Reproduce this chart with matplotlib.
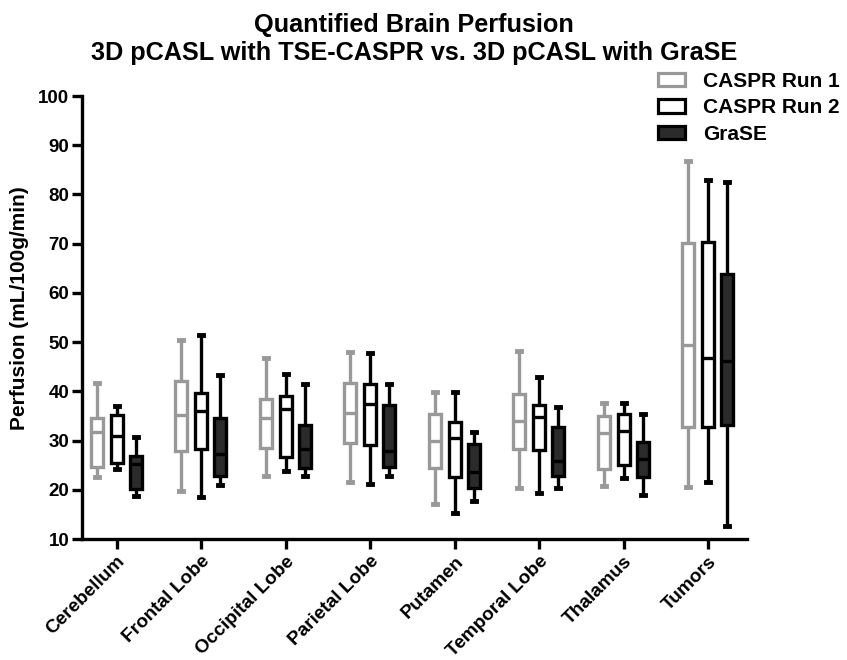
import matplotlib
matplotlib.use("Agg")
import matplotlib.pyplot as plt
from matplotlib.patches import Patch
import numpy as np

plt.rcParams['font.family'] = ['Liberation Sans', 'DejaVu Sans']

categories = ["Cerebellum", "Frontal Lobe", "Occipital Lobe", "Parietal Lobe",
              "Putamen", "Temporal Lobe", "Thalamus", "Tumors"]
series_names = ["CASPR Run 1", "CASPR Run 2", "GraSE"]

# [whislo, q1, median, q3, whishi] per category
caspr1 = [
    [22.7, 24.6, 31.8, 34.5, 41.6],
    [19.8, 27.9, 35.2, 42.2, 50.4],
    [22.8, 28.5, 34.6, 38.4, 46.8],
    [21.6, 29.6, 35.7, 41.6, 47.9],
    [17.1, 24.5, 29.9, 35.4, 39.8],
    [20.3, 28.2, 34.0, 39.5, 48.2],
    [20.8, 24.2, 31.5, 35.0, 37.6],
    [20.6, 32.8, 49.4, 70.2, 86.9],
]
caspr2 = [
    [24.2, 25.5, 30.9, 35.2, 37.0],
    [18.6, 28.2, 36.1, 39.7, 51.4],
    [23.9, 26.6, 36.5, 39.1, 43.5],
    [21.1, 29.2, 37.4, 41.4, 47.7],
    [15.2, 22.7, 30.5, 33.8, 39.8],
    [19.4, 28.1, 34.7, 37.2, 43.0],
    [22.3, 25.0, 32.0, 35.5, 37.7],
    [21.6, 32.8, 46.7, 70.4, 83.0],
]
grase = [
    [18.7, 20.1, 25.2, 26.9, 30.8],
    [21.0, 22.8, 27.3, 34.5, 43.3],
    [22.8, 24.5, 28.3, 33.2, 41.4],
    [22.9, 24.7, 27.9, 37.2, 41.5],
    [17.8, 20.3, 23.7, 29.4, 31.8],
    [20.3, 22.8, 25.8, 32.8, 36.9],
    [18.9, 22.5, 26.2, 29.8, 35.5],
    [12.7, 33.2, 46.2, 63.8, 82.6],
]
yticks = [10, 20, 30, 40, 50, 60, 70, 80, 90, 100]

edge_colors = ["#999999", "#000000", "#000000"]
face_colors = ["#ffffff", "#ffffff", "#2b2b2b"]
offsets = [-0.235, 0.0, 0.225]

fig = plt.figure(figsize=(8.47, 6.6), dpi=100)
ax = fig.add_axes([0.0968, 0.1833, 0.7852, 0.6712])

x = np.arange(len(categories))
for s, data in enumerate([caspr1, caspr2, grase]):
    stats = []
    for row in data:
        wl, q1, med, q3, wh = row
        stats.append(dict(whislo=wl, q1=q1, med=med, q3=q3, whishi=wh, fliers=[]))
    ec = edge_colors[s]
    ax.bxp(stats, positions=x + offsets[s], widths=0.14, patch_artist=True,
           showfliers=False, capwidths=0.05,
           boxprops=dict(facecolor=face_colors[s], edgecolor=ec, linewidth=2.4),
           medianprops=dict(color=ec, linewidth=2.4),
           whiskerprops=dict(color=ec, linewidth=2.4, solid_capstyle='butt'),
           capprops=dict(color=ec, linewidth=3.5))

ax.set_xlim(-0.41, 7.46)
ax.set_ylim(10, 100)
ax.set_yticks(yticks)
ax.set_xticks(x)
ax.set_xticklabels(categories, rotation=45, ha='right', rotation_mode='anchor',
                   fontsize=13.7, fontweight='bold')
for lab in ax.get_yticklabels():
    lab.set_fontsize(13.5)
    lab.set_fontweight('bold')

for sp in ['top', 'right']:
    ax.spines[sp].set_visible(False)
for sp in ['left', 'bottom']:
    ax.spines[sp].set_linewidth(2.4)
ax.tick_params(axis='both', width=2.4, length=7, direction='out')
ax.tick_params(axis='y', pad=2)
ax.tick_params(axis='x', pad=3)

fig.text(20 / 847, 0.533, "Perfusion (mL/100g/min)", rotation=90,
         ha='center', va='center', fontsize=15, fontweight='bold')

fig.text(0.489, 0.9515, "Quantified Brain Perfusion", ha='center', va='baseline',
         fontsize=18.2, fontweight='bold')
fig.text(0.489, 0.9098, "3D pCASL with TSE-CASPR vs. 3D pCASL with GraSE",
         ha='center', va='baseline', fontsize=18.2, fontweight='bold')

handles = [Patch(facecolor=face_colors[i], edgecolor=edge_colors[i], linewidth=2.3,
                 label=series_names[i]) for i in range(3)]
leg = fig.legend(handles=handles, loc='upper left', bbox_to_anchor=(0.777, 0.891),
                 frameon=False, prop=dict(size=15, weight='bold'),
                 handlelength=1.3, handleheight=0.6, handletextpad=0.85,
                 labelspacing=0.35, borderpad=0, borderaxespad=0)

fig.savefig("out.png", dpi=100)
